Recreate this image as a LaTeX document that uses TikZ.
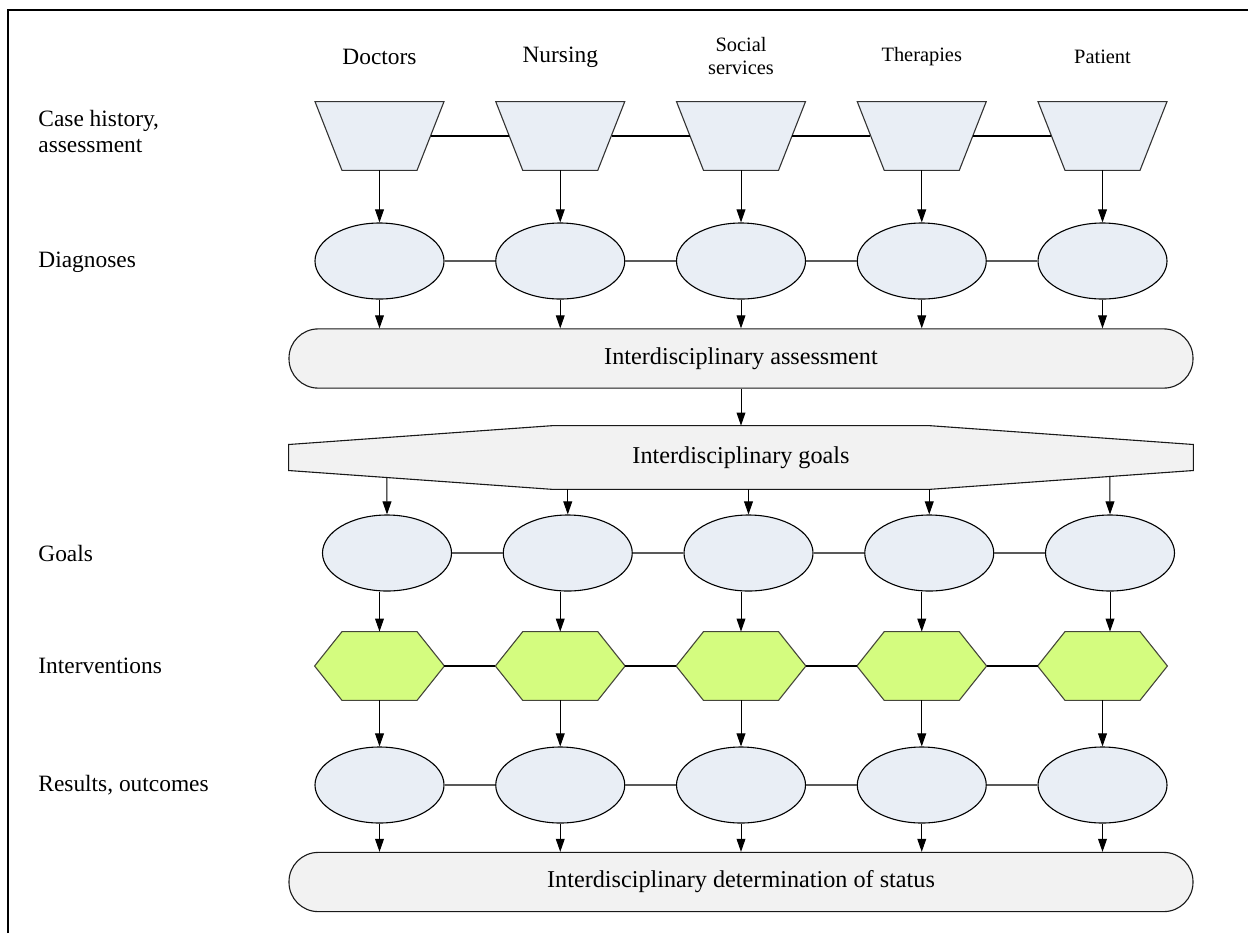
\documentclass[tikz,border=0pt]{standalone}
\usepackage{fontspec}
\setmainfont{Liberation Serif}
\usetikzlibrary{shapes.geometric,arrows.meta,calc,backgrounds}

\definecolor{boxblue}{HTML}{E9EEF5}
\definecolor{pillgray}{HTML}{F2F2F2}
\definecolor{hexgreen}{HTML}{D4FC7F}
\definecolor{hexedge}{HTML}{45463A}
\definecolor{edgegray}{HTML}{333333}

\tikzset{
  bigtext/.style={font=\fontsize{11.7pt}{13pt}\selectfont},
  smalltext/.style={font=\fontsize{10.2pt}{11.5pt}\selectfont},
  pilltext/.style={font=\fontsize{12.1pt}{13.5pt}\selectfont},
  collabel/.style={inner sep=0pt, align=center},
  rowlabel/.style={bigtext, inner sep=0pt, anchor=west, align=left},
  trapslot/.style={rectangle, inner sep=0pt, minimum width=51pt, minimum height=34pt},
  hexslot/.style={rectangle, inner sep=0pt, minimum width=64.5pt, minimum height=34pt},
  trapline/.style={fill=boxblue, draw=edgegray, line width=0.55pt, line join=miter},
  hexline/.style={fill=hexgreen, draw=hexedge, line width=0.55pt, line join=miter},
  oval/.style={ellipse, draw=black, fill=boxblue, line width=0.55pt,
    inner sep=0pt, minimum width=64.5pt, minimum height=38pt},
  pill/.style={rectangle, draw=black!90, fill=pillgray, line width=0.55pt,
    rounded corners=14.6pt, inner sep=0pt, minimum width=452pt, minimum height=29.6pt, pilltext},
  goalsbox/.style={rectangle, inner sep=0pt, minimum width=452pt, minimum height=31.5pt, pilltext},
  goalsline/.style={fill=pillgray, draw=black!90, line width=0.55pt, line join=miter},
  arr/.style={draw=black, line width=0.5pt, -{Triangle[length=6.5pt,width=4.4pt]}},
  boldlink/.style={draw=black, line width=0.9pt},
  thinlink/.style={draw=black!65, line width=0.55pt},
}

\begin{document}
\begin{tikzpicture}[x=0.5pt, y=-0.5pt]
\useasboundingbox (0,0) rectangle (1248,933);

% outer frame (left and top edges)
\draw[line width=1pt] (8,933) -- (8,10) -- (1248,10);

% column headings
\node[collabel, bigtext]   (hDoc) at (379.5,57)  {Doctors};
\node[collabel, bigtext]   (hNur) at (560.25,57) {Nursing};
\node[collabel, smalltext] (hSoc) at (741,56)    {Social\\services};
\node[collabel, smalltext] (hThe) at (921.75,57) {Therapies};
\node[collabel, smalltext] (hPat) at (1102.5,57) {Patient};

% row headings
\node[rowlabel] (rCase)  at (38,131.5) {Case history,\\assessment};
\node[rowlabel] (rDiag)  at (38,262)   {Diagnoses};
\node[rowlabel] (rGoal)  at (38,553)   {Goals};
\node[rowlabel] (rInt)   at (38,666)   {Interventions};
\node[rowlabel] (rRes)   at (38,785)   {Results, outcomes};

% per-discipline columns
\foreach \x [count=\i] in {379.5,560.25,741,921.75,1102.5} {
  % case history trapezoid
  \node[trapslot] (t\i) at (\x,136) {};
  \draw[trapline] ($(t\i.north)+(-32.25pt,0)$) -- ($(t\i.north)+(32.25pt,0)$)
     -- ($(t\i.south)+(18.75pt,0)$) -- ($(t\i.south)+(-18.75pt,0)$) -- cycle;
  % diagnoses
  \node[oval] (d\i) at (\x,261) {};
  % goals
  \node[oval] (ge\i) at ({\x+7.5},553) {};
  % interventions hexagon
  \node[hexslot] (h\i) at (\x,666) {};
  \draw[hexline] (h\i.west) -- ($(h\i.north)+(-18.75pt,0)$) -- ($(h\i.north)+(18.75pt,0)$)
     -- (h\i.east) -- ($(h\i.south)+(18.75pt,0)$) -- ($(h\i.south)+(-18.75pt,0)$) -- cycle;
  % results
  \node[oval] (r\i) at (\x,785) {};
}

% shared boxes
\node[pill] (assess) at (741,358.5) {Interdisciplinary assessment};
\node[goalsbox] (goals) at (741,457.5) {Interdisciplinary goals};
\begin{scope}[on background layer]
  \draw[goalsline] ($(goals.west)+(0,6.5pt)$) -- ($(goals.north)+(-94pt,0)$)
     -- ($(goals.north)+(94pt,0)$) -- ($(goals.east)+(0,6.5pt)$)
     -- ($(goals.east)+(0,-6.5pt)$) -- ($(goals.south)+(94pt,0)$)
     -- ($(goals.south)+(-94pt,0)$) -- ($(goals.west)+(0,-6.5pt)$) -- cycle;
\end{scope}
\coordinate (gA) at ($(goals.west)+(0,-6.5pt)$);
\coordinate (gB) at ($(goals.south)+(-94pt,0)$);
\coordinate (gC) at ($(goals.south)+(94pt,0)$);
\coordinate (gD) at ($(goals.east)+(0,-6.5pt)$);
\node[pill] (status) at (741,882) {Interdisciplinary determination of status};

% horizontal links inside each row
\foreach \i/\j in {1/2,2/3,3/4,4/5} {
  \draw[boldlink] (t\i.east) -- (t\j.west);
  \draw[thinlink] (d\i.east) -- (d\j.west);
  \draw[thinlink] (ge\i.east) -- (ge\j.west);
  \draw[boldlink] (h\i.east) -- (h\j.west);
  \draw[thinlink] (r\i.east) -- (r\j.west);
}

% vertical flow
\foreach \i in {1,...,5} {
  \draw[arr] (t\i.south) -- (d\i.north);
  \draw[arr] (d\i.south) -- (d\i.south |- assess.north);
  \draw[arr] (h\i.south) -- (r\i.north);
  \draw[arr] (r\i.south) -- (r\i.south |- status.north);
}
\draw[arr] (assess.south) -- (goals.north);

\coordinate (gs1) at (intersection of gA--gB and ge1.north--ge1.center);
\coordinate (gs5) at (intersection of gC--gD and ge5.north--ge5.center);
\draw[arr] (gs1) -- (ge1.north);
\foreach \i in {2,3,4} \draw[arr] (ge\i.north |- gB) -- (ge\i.north);
\draw[arr] (gs5) -- (ge5.north);

\foreach \i in {1,...,4} \draw[arr] (h\i.north |- ge\i.south) -- (h\i.north);
\draw[arr] (ge5.south) -- (ge5.south |- h5.north);
\end{tikzpicture}
\end{document}
